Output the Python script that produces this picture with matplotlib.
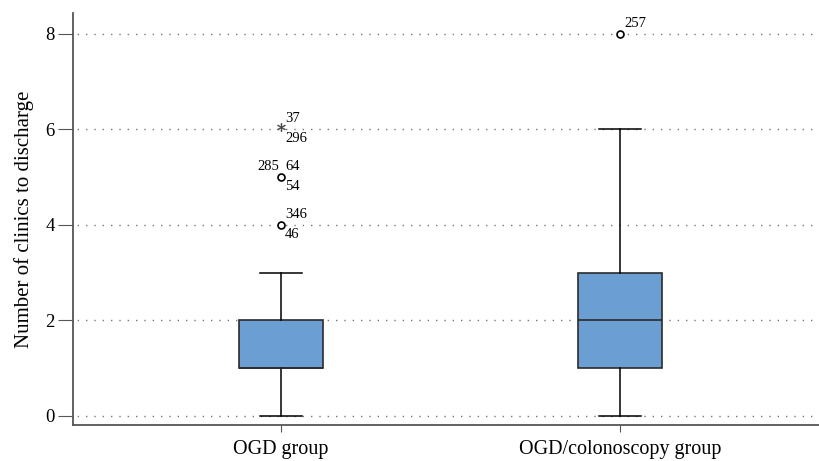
import numpy as np
import matplotlib
matplotlib.use("Agg")
import matplotlib.pyplot as plt

plt.rcParams['font.family'] = ['Liberation Serif', 'DejaVu Serif']

groups = ['OGD group', 'OGD/colonoscopy group']
q1 = [1, 1]
medians = [1, 2]
q3 = [2, 3]
whisk_lo = [0, 0]
whisk_hi = [3, 6]
# mild outliers (circles) and extreme ones (asterisks)
outliers = [[4, 5], [8]]
extremes = [[6], []]
# case labels: (group, value, text, side)
case_labels = [
    (0, 4, '346', 'above'), (0, 4, '46', 'below'),
    (0, 5, '285', 'left'), (0, 5, '64', 'above'), (0, 5, '54', 'below'),
    (0, 6, '37', 'above'), (0, 6, '296', 'below'),
    (1, 8, '257', 'above'),
]

stats = []
for i in range(len(groups)):
    stats.append(dict(med=medians[i], q1=q1[i], q3=q3[i], whislo=whisk_lo[i],
                      whishi=whisk_hi[i], fliers=outliers[i], label=groups[i]))

fig = plt.figure(figsize=(8.19, 4.61), dpi=100)
ax = fig.add_axes([0.089, 0.078, 0.911, 0.894])

pos = [1, 2]
ax.bxp(stats, positions=pos, widths=0.25, patch_artist=True, capwidths=0.125,
       boxprops=dict(facecolor='#6b9fd3', edgecolor='#2b2b2b', linewidth=1.2),
       medianprops=dict(color='#2b2b2b', linewidth=1.2),
       whiskerprops=dict(color='black', linewidth=1.1),
       capprops=dict(color='black', linewidth=1.1),
       flierprops=dict(marker='o', markersize=5, markerfacecolor='white',
                       markeredgecolor='black', markeredgewidth=1.2),
       zorder=3)
for i, ex in enumerate(extremes):
    if ex:
        ax.plot([pos[i]] * len(ex), np.array(ex) + 0.05, marker='$*$', markersize=6,
                color='#444444', linestyle='none', markeredgewidth=0.3, zorder=4)

for g, v, txt, side in case_labels:
    x = pos[g]
    if side == 'above':
        ax.annotate(txt, (x, v), xytext=(3, 3), textcoords='offset points',
                    ha='left', va='bottom', fontsize=10.5)
    elif side == 'below':
        ax.annotate(txt, (x, v), xytext=(3, -2), textcoords='offset points',
                    ha='left', va='top', fontsize=10.5)
    else:
        ax.annotate(txt, (x, v), xytext=(-1, 3), textcoords='offset points',
                    ha='right', va='bottom', fontsize=10.5)

ax.set_xlim(0.386, 2.587)
ax.set_ylim(-0.19, 8.44)
ax.set_yticks([0, 2, 4, 6, 8])
ax.set_xticks(pos)
ax.set_xticklabels(groups)
ax.yaxis.grid(True, linestyle=(3, (1, 5)), color='#777777', linewidth=1)
ax.set_axisbelow(True)
ax.spines['top'].set_visible(False)
ax.spines['right'].set_visible(False)
ax.spines['left'].set_color('#555555')
ax.spines['bottom'].set_color('#555555')
ax.spines['left'].set_linewidth(1.3)
ax.spines['bottom'].set_linewidth(1.3)
ax.tick_params(axis='y', labelsize=13.5, length=11, color='#555555', pad=2)
ax.tick_params(axis='x', labelsize=14.5, length=5, color='#555555', pad=6)
ax.set_ylabel('Number of clinics to discharge', fontsize=15, labelpad=8)

fig.savefig('out.png', dpi=100)
